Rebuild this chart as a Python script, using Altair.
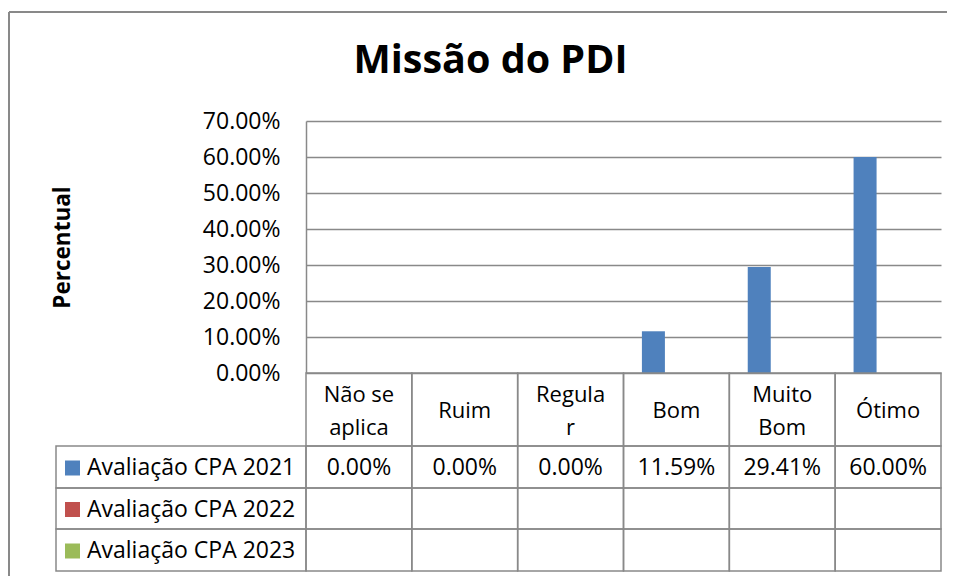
import altair as alt
import pandas as pd

# ---- data ----
categories = ["Não se aplica", "Ruim", "Regular", "Bom", "Muito Bom", "Ótimo"]
header_labels = ["Não se\naplica", "Ruim", "Regula\nr", "Bom", "Muito\nBom", "Ótimo"]
series = ["Avaliação CPA 2021", "Avaliação CPA 2022", "Avaliação CPA 2023"]
colors = ["#4F81BD", "#C0504D", "#9BBB59"]
values_2021 = [0.0, 0.0, 0.0, 0.1159, 0.2941, 0.60]
y_ticks = [0, 0.1, 0.2, 0.3, 0.4, 0.5, 0.6, 0.7]
title_text = "Missão do PDI"
y_title = "Percentual"

FONT = "Open Sans"
GRID = "#898989"

bars_df = pd.DataFrame({"categoria": categories, "serie": series[0], "valor": values_2021})
header_df = pd.DataFrame({"categoria": categories, "rotulo": header_labels})
one = pd.DataFrame({"k": [0]})

x_scale = alt.Scale(domain=categories, paddingInner=0, paddingOuter=0)
xo_scale = alt.Scale(domain=series, paddingInner=0, paddingOuter=0.8)
y_scale = alt.Scale(domain=[0, 0.7], nice=False)
color_scale = alt.Scale(domain=series, range=colors)

X = alt.X("categoria:N", scale=x_scale, axis=None, sort=categories)

bars = alt.Chart(bars_df).mark_bar(strokeWidth=0).encode(
    x=X,
    xOffset=alt.XOffset("serie:N", scale=xo_scale),
    y=alt.Y(
        "valor:Q",
        scale=y_scale,
        axis=alt.Axis(
            values=y_ticks, format=".2%", grid=True, gridColor=GRID, gridWidth=1.5,
            domainColor=GRID, domainWidth=1.5, ticks=False,
            labelFont=FONT, labelFontSize=23, labelColor="black", labelPadding=26,
            title=y_title, titleFont=FONT, titleFontSize=22.5, titleFontWeight="bold",
            titleColor="black", titleX=-244, titleY=126, titleAngle=270,
            titleAlign="center", titleBaseline="middle",
        ),
    ),
    color=alt.Color("serie:N", scale=color_scale, legend=None),
)

title = alt.Chart(one).mark_text(
    font=FONT, fontSize=39.5, fontWeight="bold", align="center", baseline="alphabetic", color="black"
).encode(x=alt.value(184.5), y=alt.value(-48), text=alt.value(title_text))

border_left = alt.Chart(one).mark_rule(color=GRID, strokeWidth=2).encode(
    x=alt.value(-297), y=alt.value(-109), y2=alt.value(470)
)
border_top = alt.Chart(one).mark_rule(color=GRID, strokeWidth=2).encode(
    x=alt.value(-297), x2=alt.value(660), y=alt.value(-109)
)

header_cells = alt.Chart(header_df).mark_rect(filled=False, stroke=GRID, strokeWidth=1.5).encode(
    x=X, y=alt.value(252), y2=alt.value(325)
)
header_text_two = alt.Chart(header_df).transform_filter(
    "indexof(datum.rotulo, '\\n') >= 0"
).mark_text(
    font=FONT, fontSize=22, lineBreak="\n", lineHeight=33, baseline="middle", color="black"
).encode(x=X, y=alt.value(274), text="rotulo:N")
header_text_one = alt.Chart(header_df).transform_filter(
    "indexof(datum.rotulo, '\\n') < 0"
).mark_text(
    font=FONT, fontSize=22, baseline="middle", color="black"
).encode(x=X, y=alt.value(290), text="rotulo:N")

rows = [(325, 367), (367, 408), (408, 450)]
layers = [border_left, border_top, title, bars, header_cells, header_text_two, header_text_one]
for i, s in enumerate(series):
    top, bot = rows[i]
    mid = (top + bot) / 2 + 1
    sdf = pd.DataFrame({"serie": [s]})
    cdf = pd.DataFrame({"categoria": categories})
    layers.append(
        alt.Chart(cdf).mark_rect(filled=False, stroke=GRID, strokeWidth=1.5).encode(
            x=X, y=alt.value(top), y2=alt.value(bot)
        )
    )
    layers.append(
        alt.Chart(sdf).mark_rect(filled=False, stroke=GRID, strokeWidth=1.5).encode(
            x=alt.value(-250), x2=alt.value(0), y=alt.value(top), y2=alt.value(bot)
        )
    )
    layers.append(
        alt.Chart(sdf).mark_square(size=225, opacity=1, filled=True).encode(
            x=alt.value(-233.5), y=alt.value(mid),
            color=alt.Color("serie:N", scale=color_scale, legend=None),
        )
    )
    layers.append(
        alt.Chart(sdf).mark_text(
            font=FONT, fontSize=23, align="left", baseline="middle", color="black"
        ).encode(x=alt.value(-219), y=alt.value(mid), text="serie:N")
    )
    if i == 0:
        layers.append(
            alt.Chart(bars_df).mark_text(
                font=FONT, fontSize=23, baseline="middle", color="black"
            ).encode(x=X, y=alt.value(mid), text=alt.Text("valor:Q", format=".2%"))
        )

chart = alt.layer(*layers).properties(
    width=635,
    height=252,
    padding={"left": 298, "top": 113, "right": 6, "bottom": 203},
    autosize=alt.AutoSizeParams(type="none"),
    background="white",
).configure_view(stroke=None)

chart.save("out.html", embed_options={"renderer": "svg", "actions": False})
